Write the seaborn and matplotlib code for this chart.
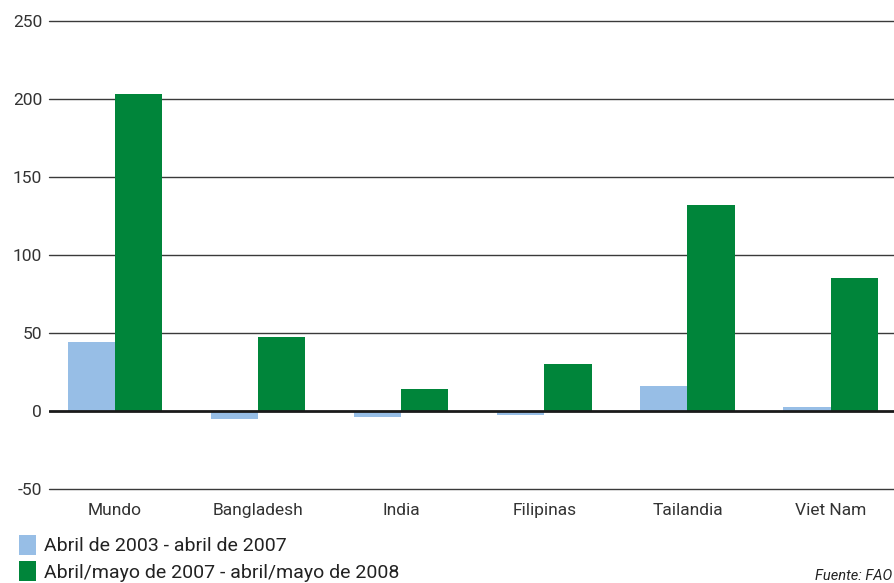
import seaborn as sns
import pandas as pd
import matplotlib.pyplot as plt
from matplotlib.patches import Patch

# DATA
paises = ["Mundo", "Bangladesh", "India", "Filipinas", "Tailandia", "Viet Nam"]
periodo_1 = [44, -5, -3.5, -2.5, 16, 2.5]
periodo_2 = [203, 47.5, 14, 30, 132, 85]
series = ["Abril de 2003 - abril de 2007", "Abril/mayo de 2007 - abril/mayo de 2008"]
colores = ["#97bee6", "#00853a"]

df = pd.DataFrame({
    "Pais": paises * 2,
    "Valor": periodo_1 + periodo_2,
    "Serie": [series[0]] * len(paises) + [series[1]] * len(paises),
})

sns.set_style("white")
plt.rcParams["font.family"] = ["Roboto", "DejaVu Sans"]
plt.rcParams["axes.unicode_minus"] = False

fig = plt.figure(figsize=(8.95, 5.83), dpi=100)
ax = fig.add_axes([0.0547, 0.161, 0.9453, 0.803])

# GRID LINES
for y in [-50, 50, 100, 150, 200, 250]:
    ax.axhline(y, color="#3a3a3a", linewidth=1.0, zorder=0, clip_on=False)

sns.barplot(data=df, x="Pais", y="Valor", hue="Serie", palette=colores,
            width=0.66, gap=0, saturation=1, legend=False, ax=ax, zorder=2,
            linewidth=0, edgecolor="none")
ax.axhline(0, color="#1a1a1a", linewidth=2, zorder=3)

ax.set_ylim(-50, 250)
ax.set_xlim(-0.46, 5.45)
ax.set_yticks([-50, 0, 50, 100, 150, 200, 250])
ax.set_xlabel("")
ax.set_ylabel("")
for s in ax.spines.values():
    s.set_visible(False)
ax.tick_params(axis="both", length=0, labelsize=12.5, labelcolor="#333333")
ax.tick_params(axis="y", pad=5)
ax.tick_params(axis="x", pad=10)

# LEGEND
handles = [Patch(facecolor=c, edgecolor="none") for c in colores]
fig.legend(handles, series, loc="lower left", bbox_to_anchor=(0.002, -0.028),
           frameon=False, fontsize=14, handlelength=0.85, handleheight=1.2,
           handletextpad=0.4, labelspacing=0.3, labelcolor="#222222")

fig.text(0.997, 0.0, "Fuente: FAO", ha="right", va="bottom", fontsize=10.5,
         style="italic", color="#222222")

fig.savefig("out.png", dpi=100)
